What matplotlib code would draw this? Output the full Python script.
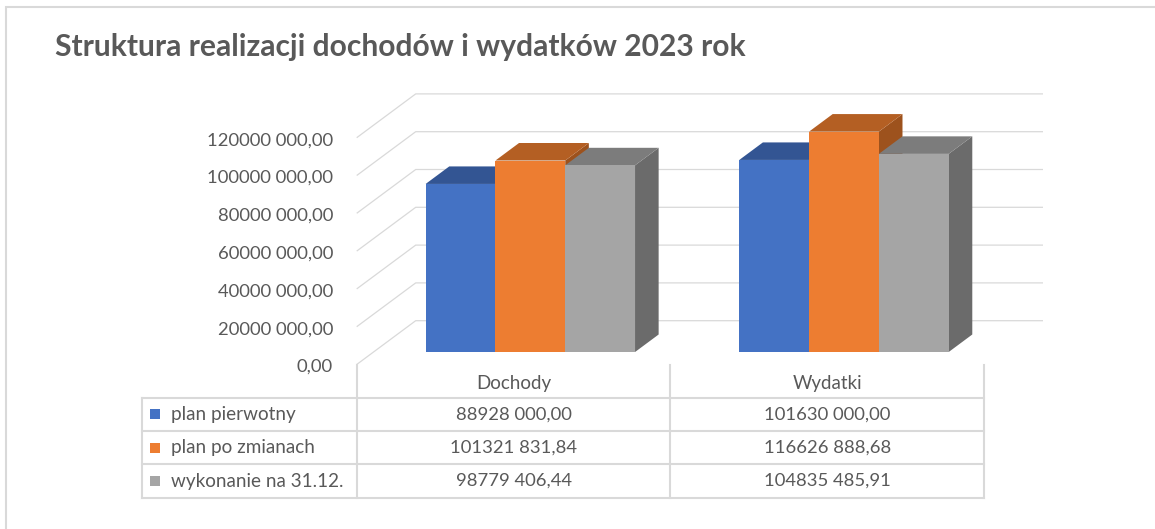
import matplotlib
matplotlib.use("Agg")
import matplotlib.pyplot as plt
from matplotlib.patches import Polygon, Rectangle

# data (PLN)
categories = ["Dochody", "Wydatki"]
series_names = ["plan pierwotny", "plan po zmianach", "wykonanie na 31.12."]
plan_pierwotny = [88928000.00, 101630000.00]
plan_po_zmianach = [101321831.84, 116626888.68]
wykonanie = [98779406.44, 104835485.91]
ticks = [0, 20e6, 40e6, 60e6, 80e6, 100e6, 120e6]

series_values = [plan_pierwotny, plan_po_zmianach, wykonanie]
# front, top, side shades
colors = [("#4472C4", "#335593", "#2E4D85"),
          ("#ED7D31", "#B45F23", "#9D521D"),
          ("#A5A5A5", "#7C7C7C", "#6B6B6B")]
txt = "#595959"
grid = "#d9d9d9"
plt.rcParams["font.family"] = ["Lato", "DejaVu Sans"]


def fmt(v):
    s = f"{v:.2f}".replace(".", ",")
    whole, dec = s.split(",")
    if len(whole) > 3:
        whole = whole[:-3] + " " + whole[-3:]
    return whole + "," + dec


W, H = 1155, 529
fig = plt.figure(figsize=(W / 100, H / 100), dpi=100)
ax = fig.add_axes([0, 0, 1, 1])

# pixel layout of the front plane
x0_px, cat_px = 356.7, 313.65
y0_px, val_px = 364.5, 1.89e-6
ax.set_xlim(-x0_px / cat_px, (W - x0_px) / cat_px)
ax.set_ylim(-(H - y0_px) / val_px, y0_px / val_px)
ax.axis("off")


def px(p):
    return (p - x0_px) / cat_px


def py(p):
    return (y0_px - p) / val_px


wall_dx = 59 / cat_px
wall_dy = 43.8 / val_px
bar_front, bar_back = 0.285, 0.685
bar_w = 69.8 / cat_px
ncat = len(categories)

# side wall diagonals + back wall gridlines
for t in ticks:
    ax.plot([0, wall_dx, ncat + wall_dx], [t, t + wall_dy, t + wall_dy],
            color=grid, lw=0.9, zorder=1, solid_capstyle="butt")
    ax.text(px(333), t - 2.5 / val_px, fmt(t), ha="right", va="center",
            fontsize=13.3, color=txt)

# 3d columns
ddx = wall_dx * (bar_back - bar_front)
ddy = wall_dy * (bar_back - bar_front)
base = wall_dy * bar_front
for j, vals in enumerate(series_values):
    front, top, side = colors[j]
    for i, v in enumerate(vals):
        left = i + 0.5 + (j - 1.5) * bar_w + wall_dx * bar_front
        right = left + bar_w
        ax.add_patch(Polygon([(right, base), (right + ddx, base + ddy),
                              (right + ddx, base + v + ddy), (right, base + v)],
                             closed=True, fc=side, ec="none", zorder=3 + j))
        ax.add_patch(Polygon([(left, base + v), (right, base + v),
                              (right + ddx, base + v + ddy), (left + ddx, base + v + ddy)],
                             closed=True, fc=top, ec="none", zorder=3 + j + 0.01))
        ax.bar(left, v, width=bar_w, bottom=base, align="edge", color=front,
               zorder=3 + j + 0.02)

# data table
tl = px(142.3)
rows = [397.7, 431.0, 464.3, 497.7]
for k in range(ncat + 1):
    ax.plot([k, k], [0, py(rows[-1])], color=grid, lw=1.5, zorder=1)
ax.plot([tl, tl], [py(rows[0]), py(rows[-1])], color=grid, lw=1.5, zorder=1)
for r in rows:
    ax.plot([tl, ncat], [py(r), py(r)], color=grid, lw=1.5, zorder=1)

for i, c in enumerate(categories):
    ax.text(i + 0.5, py(383), c, ha="center", va="center", fontsize=13.5, color=txt)

for j, name in enumerate(series_names):
    yc = py((rows[j] + rows[j + 1]) / 2)
    ax.add_patch(Rectangle((px(150), yc - 5 / val_px), 10.5 / cat_px, 10 / val_px,
                           fc=colors[j][0], ec="none", zorder=2))
    ax.text(px(171), yc, name, ha="left", va="center", fontsize=13.6, color=txt)
    for i, v in enumerate(series_values[j]):
        ax.text(i + 0.5, yc, fmt(v), ha="center", va="center", fontsize=13.3, color=txt)

fig.text(55 / W, 1 - 56 / H, "Struktura realizacji dochodów i wydatków 2023 rok",
         ha="left", va="baseline", fontsize=21.6, fontweight="bold", color=txt)

# chart area border (only left and top edge are inside the picture)
fig.add_artist(Rectangle((6 / W, -0.1), 2, 1 - 7 / H + 0.1, transform=fig.transFigure,
                         fill=False, ec="#d9d9d9", lw=1.5))

fig.savefig("out.png", dpi=100)
